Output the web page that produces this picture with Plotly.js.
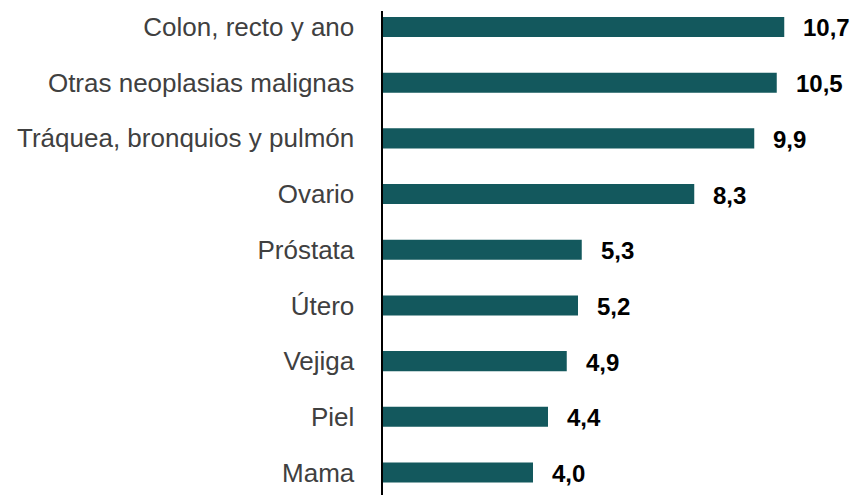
<!DOCTYPE html>
<html>
<head>
<meta charset="utf-8">
<script src="https://cdn.plot.ly/plotly-3.0.1.min.js"></script>
<style>html,body{margin:0;padding:0;background:#fff;}#chart{width:856px;height:495px;}</style>
</head>
<body>
<div id="chart"></div>
<script>
const categories = ["Colon, recto y ano", "Otras neoplasias malignas", "Tráquea, bronquios y pulmón", "Ovario", "Próstata", "Útero", "Vejiga", "Piel", "Mama"];
const values = [10.7, 10.5, 9.9, 8.3, 5.3, 5.2, 4.9, 4.4, 4.0];
const labels = values.map(v => v.toFixed(1).replace('.', ','));

const FONT = "'Liberation Sans', Arial, sans-serif";

const trace = {
  type: 'bar',
  orientation: 'h',
  x: values,
  y: categories,
  width: 0.36,
  marker: {color: '#13585d'},
  hoverinfo: 'none'
};

const annotations = values.map((v, i) => ({
  x: v, y: categories[i], xref: 'x', yref: 'y',
  text: labels[i], showarrow: false,
  xanchor: 'left', yanchor: 'middle', xshift: 17, yshift: -1,
  font: {family: FONT, size: 24, color: '#000000', weight: 'bold'}
}));

const layout = {
  width: 856, height: 495,
  margin: {l: 383, r: 23, t: 11, b: 0, pad: 0},
  paper_bgcolor: '#ffffff', plot_bgcolor: '#ffffff',
  showlegend: false,
  font: {family: FONT},
  xaxis: {range: [0, 12], visible: false, fixedrange: true},
  yaxis: {
    type: 'category',
    range: [8.404, -0.287],
    showline: true, linecolor: '#000000', linewidth: 2.5,
    showgrid: false, zeroline: false,
    ticks: '', ticklabelstandoff: 21,
    tickfont: {family: FONT, size: 26, color: '#404040'}
  },
  annotations: annotations
};

Plotly.newPlot('chart', [trace], layout, {displayModeBar: false, staticPlot: true});
</script>
</body>
</html>
